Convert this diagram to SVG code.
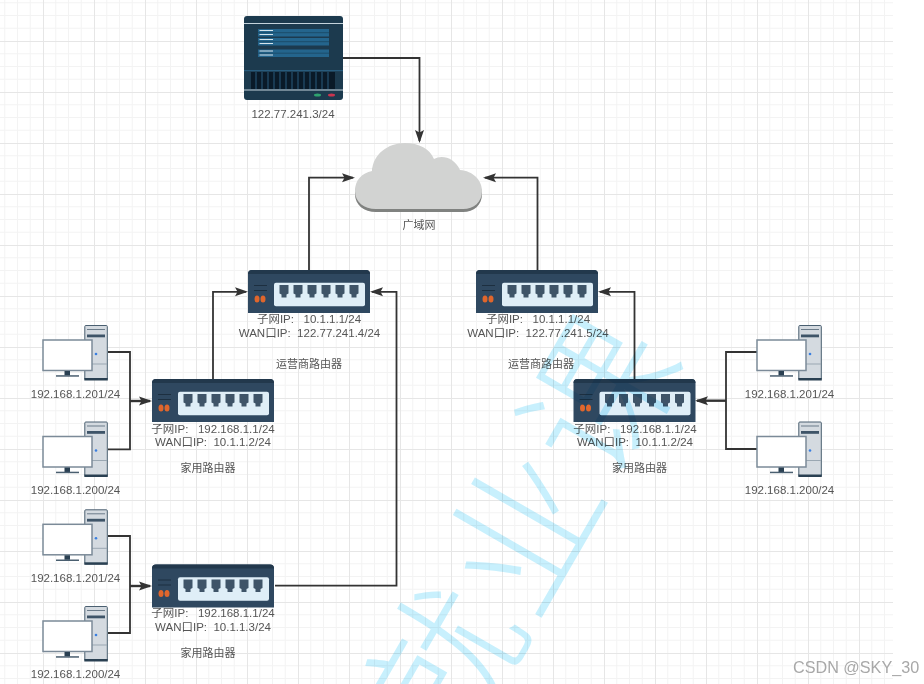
<svg xmlns="http://www.w3.org/2000/svg" xmlns:xlink="http://www.w3.org/1999/xlink" width="924" height="684" viewBox="0 0 924 684">
<style>
text{font-family:"Liberation Sans","Noto Sans CJK SC",sans-serif;font-size:11.5px;fill:#555;text-anchor:middle;white-space:pre}
.cn{font-size:11px}
.wm{font-family:"Noto Sans CJK SC",sans-serif;font-size:152px;font-weight:300;fill:#c8f0fd;mix-blend-mode:multiply}
.csdn{font-size:16.2px;fill:#a8a8a8;text-anchor:start}
.c{fill:none;stroke:#333;stroke-width:1.8}
.ca{marker-end:url(#arrow)}
.thick{stroke-width:2.400}
</style>
<defs>
<pattern id="grid" patternUnits="userSpaceOnUse" x="43" y="41" width="51" height="51">
<path d="M12.75 0V51M25.5 0V51M38.25 0V51M0 12.75H51M0 25.5H51M0 38.25H51" stroke="#f3f3f3" stroke-width="1" fill="none"/>
<path d="M0.5 0V51M0 0.5H51" stroke="#e6e6e6" stroke-width="1" fill="none"/>
</pattern>
<marker id="arrow" markerUnits="userSpaceOnUse" markerWidth="14" markerHeight="11" refX="11" refY="5.5" orient="auto">
<path d="M0 1L13 5.500L0 10L2.500 5.500Z" fill="#333"/>
</marker>
<path id="port" d="M-4.500 2H4.500V10.500L2.500 11.500V14.500H-2.500V11.500L-4.500 10.500Z" fill="#3f5468"/>
<g id="router">
<path d="M0 43V4Q0 0 4 0H118Q122 0 122 4V43Z" fill="#2f4860"/>
<path d="M0 4Q0 0 4 0H118Q122 0 122 4Z" fill="#22384c"/>
<rect x="26" y="12.700" width="91" height="23.500" rx="2" fill="#dfeef7"/>
<use xlink:href="#port" x="36" y="13"/><use xlink:href="#port" x="50" y="13"/><use xlink:href="#port" x="64" y="13"/><use xlink:href="#port" x="78" y="13"/><use xlink:href="#port" x="92" y="13"/><use xlink:href="#port" x="106" y="13"/>
<path d="M6 15.500H19M6 20.500H19" stroke="#1d2f40" stroke-width="1"/>
<ellipse cx="9" cy="29" rx="2.500" ry="3.500" fill="#e0662c"/><ellipse cx="15" cy="29" rx="2.500" ry="3.500" fill="#e0662c"/>
</g>
<g id="pc">
<rect x="84.800" y="325.500" width="22.500" height="54" rx="1" fill="#d4dae0" stroke="#4a5f70" stroke-width="1"/>
<rect x="84.300" y="378" width="23.500" height="2.500" fill="#2a4052"/>
<path d="M87 329.500H105" stroke="#6b7b89" stroke-width="1"/>
<rect x="87" y="334.500" width="18" height="2.800" fill="#3e5468"/>
<path d="M85 364H107" stroke="#9aa7b2" stroke-width="1"/>
<circle cx="96" cy="354" r="1.300" fill="#3a7fe0"/>
<rect x="43" y="340" width="49" height="30.500" fill="#fff" stroke="#7b8a98" stroke-width="1.500"/>
<rect x="64.500" y="371" width="5.500" height="4.500" fill="#2a4052"/>
<rect x="56" y="375.200" width="23" height="1.500" fill="#4a5f70"/>
</g>
<path id="cloudp" d="M355 191C355 180 362 173 372 171C373 154 388 143 405 143C419 143 430 149 434 159C442 154 455 158 460 170C473 171 482 180 482 191C482 202 474 209 463 209H376C364 209 355 202 355 191Z"/>
</defs>
<rect x="0" y="0" width="924" height="684" fill="#fff"/>
<rect x="0" y="0" width="893" height="684" fill="url(#grid)"/>
<g id="connectors">
<path class="c ca" d="M343 58H419.500V141"/>
<path class="c ca" d="M309 270V177.700H353"/>
<path class="c ca" d="M537.500 270V177.700H485"/>
<path class="c ca" d="M213 379V291.800H246"/>
<path class="c ca" d="M275 585.700H396.500V291.800H372"/>
<path class="c ca" d="M634.500 379V291.800H600"/>
<path class="c" d="M108 352H130V449.300H108"/>
<path class="c ca thick" d="M130 401H150"/>
<path class="c" d="M108 536H130V633H108"/>
<path class="c ca thick" d="M130 586H150"/>
<path class="c" d="M757 352H726V449H757"/>
<path class="c ca thick" d="M726 400.700H697"/>
</g>
<g id="server">
<rect x="244" y="16" width="99" height="84" rx="3" fill="#1c3a4e"/>
<path d="M244 23.500H343M244 90H343" stroke="#c4d3dc" stroke-width="1"/>
<path d="M244 70.700H343" stroke="#2f6f95" stroke-width=".8"/>
<g fill="#24658d"><rect x="258" y="29" width="71" height="7.500"/><rect x="258" y="38" width="71" height="7.500"/><rect x="258" y="49.500" width="71" height="7.500"/></g>
<path d="M258 32.700H329M258 41.700H329M258 53.200H329" stroke="#1c4d6c" stroke-width="1"/>
<path d="M259.500 30.500H273M259.500 34.500H273M259.500 39.500H273M259.500 43.500H273M259.500 51H273M259.500 55H273" stroke="#d5e4ec" stroke-width="1"/>
<rect x="251" y="72" width="84" height="17" fill="#0a1a28"/>
<path d="M256 72V89M262 72V89M268 72V89M274 72V89M280 72V89M286 72V89M292 72V89M298 72V89M304 72V89M310 72V89M316 72V89M322 72V89M328 72V89" stroke="#1f4660" stroke-width="1.500"/>
<ellipse cx="317.500" cy="95" rx="3.500" ry="1.500" fill="#2ea36f"/><ellipse cx="331.500" cy="95" rx="3.500" ry="1.500" fill="#c9344f"/>
<text x="293" y="118">122.77.241.3/24</text>
</g>
<g id="cloud">
<use xlink:href="#cloudp" y="3" fill="#808280"/>
<use xlink:href="#cloudp" fill="#d2d3d2"/>
<text class="cn" x="419" y="229">广域网</text>
</g>
<g id="isp-router-left">
<use xlink:href="#router" x="248" y="270"/>
<text x="309" y="323">子网IP:   10.1.1.1/24</text>
<text x="309.500" y="337">WAN口IP:  122.77.241.4/24</text>
<text class="cn" x="309" y="368">运营商路由器</text>
</g>
<g id="isp-router-right">
<use xlink:href="#router" x="476" y="270"/>
<text x="538" y="323">子网IP:   10.1.1.1/24</text>
<text x="538" y="337">WAN口IP:  122.77.241.5/24</text>
<text class="cn" x="541" y="368">运营商路由器</text>
</g>
<g id="home-router-1">
<use xlink:href="#router" x="152" y="379"/>
<text x="213" y="433">子网IP:   192.168.1.1/24</text>
<text x="213" y="446">WAN口IP:  10.1.1.2/24</text>
<text class="cn" x="208" y="472">家用路由器</text>
</g>
<g id="home-router-2">
<use xlink:href="#router" x="152" y="564.500"/>
<text x="213" y="617">子网IP:   192.168.1.1/24</text>
<text x="213" y="631">WAN口IP:  10.1.1.3/24</text>
<text class="cn" x="208" y="657">家用路由器</text>
</g>
<g id="home-router-3">
<use xlink:href="#router" x="573.500" y="379"/>
<text x="635" y="433">子网IP:   192.168.1.1/24</text>
<text x="635" y="446">WAN口IP:  10.1.1.2/24</text>
<text class="cn" x="639.500" y="472">家用路由器</text>
</g>
<g id="pc-left-1"><use xlink:href="#pc"/><text x="75.500" y="398">192.168.1.201/24</text></g>
<g id="pc-left-2"><use xlink:href="#pc" y="96.500"/><text x="75.500" y="494">192.168.1.200/24</text></g>
<g id="pc-left-3"><use xlink:href="#pc" y="184.300"/><text x="75.500" y="582">192.168.1.201/24</text></g>
<g id="pc-left-4"><use xlink:href="#pc" y="281"/><text x="75.500" y="678">192.168.1.200/24</text></g>
<g id="pc-right-1"><use xlink:href="#pc" x="714"/><text x="789.500" y="398">192.168.1.201/24</text></g>
<g id="pc-right-2"><use xlink:href="#pc" x="714" y="96.500"/><text x="789.500" y="494">192.168.1.200/24</text></g>
<text class="wm" transform="translate(449 668) rotate(-60)" x="0" y="52">就</text>
<text class="wm" transform="translate(527 533) rotate(-60)" x="0" y="52">业</text>
<text class="wm" transform="translate(603 398) rotate(-60)" x="0" y="52">课</text>
<text class="csdn" x="793" y="673">CSDN @SKY_30</text>
</svg>
